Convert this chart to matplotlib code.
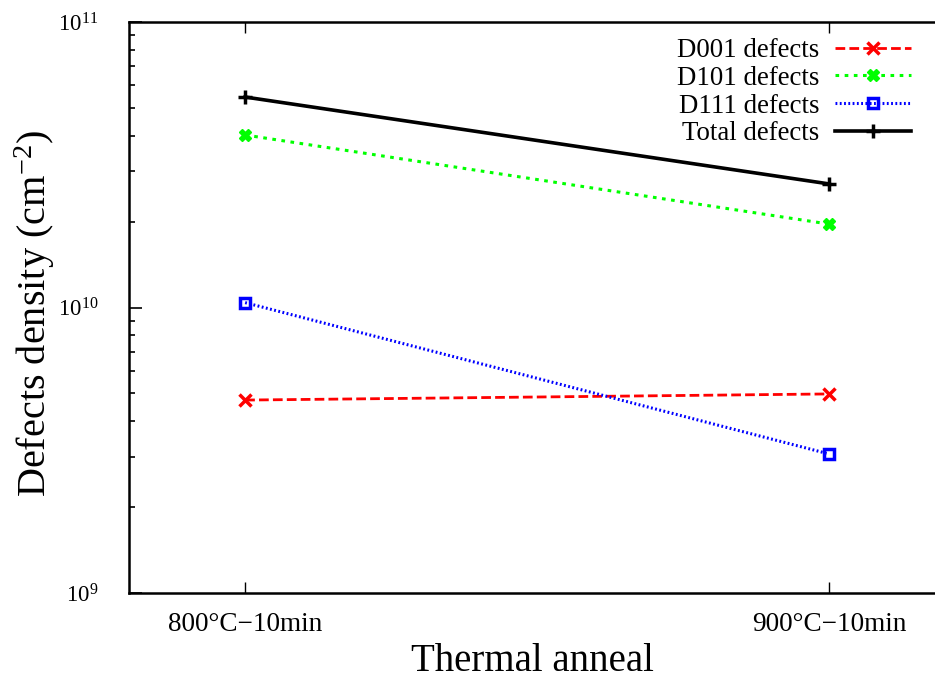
import matplotlib
matplotlib.use("Agg")
import matplotlib.pyplot as plt
from matplotlib.ticker import LogLocator, FixedLocator, NullFormatter

plt.rcParams['font.family'] = ['Liberation Serif', 'DejaVu Serif']
plt.rcParams['mathtext.fontset'] = 'custom'
plt.rcParams['mathtext.rm'] = 'Liberation Serif'
plt.rcParams['mathtext.it'] = 'Liberation Serif:italic'
plt.rcParams['mathtext.bf'] = 'Liberation Serif:bold'

categories = ["800°C−10min", "900°C−10min"]
d001 = [4.74e9, 4.98e9]
d101 = [4.02e10, 1.96e10]
d111 = [1.04e10, 3.07e9]
total = [5.46e10, 2.71e10]

fig = plt.figure(figsize=(9.35, 6.8), dpi=100)
ax = fig.add_axes([129/935, 1-593/680, 1.0 - 129/935, (593-22)/680])

x = list(range(len(categories)))
ax.plot(x, d001, color='#ff0000', ls=(0, (3.5, 1.5)), lw=2, marker='x', ms=8, mew=2.5,
        label='D001 defects')
ax.plot(x, d101, color='#00ff00', ls=(0, (1.2, 1.8)), lw=2.2, marker='X', ms=9, mew=1,
        label='D101 defects')
ax.plot(x, d111, color='#0000ff', ls=(0, (0.6, 0.8)), lw=2.2, marker='s', ms=7, mew=2.5,
        mfc='none', label='D111 defects')
ax.plot(x, total, color='black', ls='-', lw=2.6, marker='+', ms=10, mew=2.5,
        label='Total defects')

ax.set_yscale('log')
ax.set_ylim(1e9, 1e11)
ax.set_xlim(-116/583, 1 + 106/583)
ax.set_xticks(x)
ax.set_xticklabels(categories, fontsize=19.6)
ax.yaxis.set_major_locator(FixedLocator([1e9, 1e10, 1e11]))
ax.yaxis.set_minor_locator(LogLocator(base=10, subs=range(2, 10)))
ax.yaxis.set_minor_formatter(NullFormatter())
ax.tick_params(axis='y', which='major', labelsize=16.5, direction='in', length=9, width=1.2, pad=22)
ax.tick_params(axis='y', which='minor', direction='in', length=4, width=1.2)
ax.tick_params(axis='x', which='major', direction='in', length=8, width=1, top=True, pad=14)
ax.spines['right'].set_visible(False)
for s in ['left', 'top', 'bottom']:
    ax.spines[s].set_linewidth(1.8)

ax.set_xlabel('Thermal anneal', fontsize=28, labelpad=4)
ax.set_ylabel('Defects density (cm$^{-2}$)', fontsize=29)
ax.yaxis.set_label_coords(-0.117, 0.489)
ax.yaxis.label.set_va('center')

leg = ax.legend(loc='upper right', bbox_to_anchor=(0.99, 1.0), markerfirst=False,
                frameon=False, fontsize=19.4, handlelength=2.8, labelspacing=0.1,
                handletextpad=0.6, borderaxespad=0.2)
for vp in leg._legend_box._children[-1]._children:
    vp.align = 'right'

fig.savefig('out.png', dpi=100)
